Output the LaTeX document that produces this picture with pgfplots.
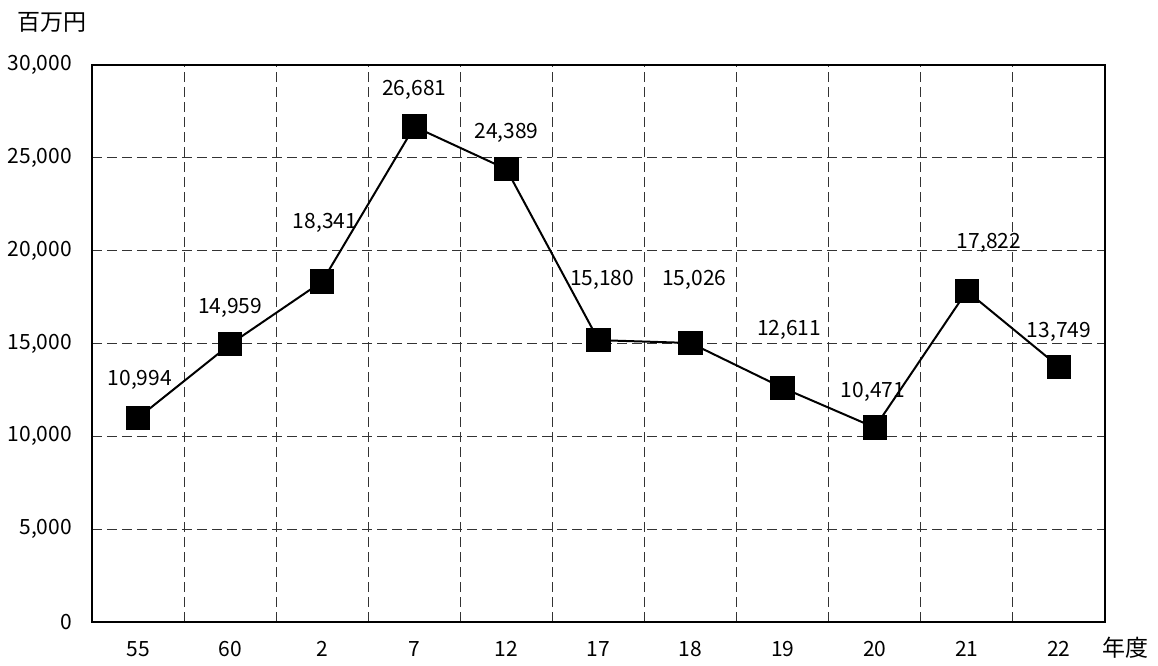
\documentclass[border=0pt]{standalone}
\usepackage{pgfplots}
\pgfplotsset{compat=1.18}
\usepackage{fontspec}
\setmainfont{Noto Sans CJK JP}
\begin{document}
\begin{tikzpicture}
\begin{axis}[
  at={(0,0)}, anchor=south west,
  scale only axis,
  width=506.5pt, height=278.5pt,
  xmin=-0.5, xmax=10.5,
  ymin=0, ymax=30000,
  xtick={0,...,10},
  xticklabels={55,60,2,7,12,17,18,19,20,21,22},
  minor xtick={0.5,1.5,...,9.5},
  ytick={0,5000,...,30000},
  scaled y ticks=false,
  /pgf/number format/.cd, 1000 sep={,}, assume math mode=true,
  /pgfplots/.cd,
  major tick length=0pt, minor tick length=0pt,
  xmajorgrids=false, xminorgrids=true, ymajorgrids=true,
  grid style={black!80, line width=0.5pt, dash pattern=on 5pt off 2.5pt},
  minor grid style={black!80, line width=0.5pt, dash pattern=on 5pt off 2.5pt},
  axis line style={black, line width=0.6pt},
  tick label style={font=\fontsize{10.5}{12}\selectfont},
  yticklabel style={xshift=-6.5pt},
  xticklabel style={yshift=-6pt},
  clip=false,
]
\addplot[black, line width=1pt, mark=square*, mark size=5.6pt, mark options={solid, fill=black}]
  coordinates {(0,10994) (1,14959) (2,18341) (3,26681) (4,24389) (5,15180) (6,15026) (7,12611) (8,10471) (9,17822) (10,13749)};
\addplot[draw=none, mark=none, nodes near coords, point meta=explicit symbolic,
  every node near coord/.append style={anchor=center, font=\fontsize{10.5}{12}\selectfont}]
  table[meta=lab] {
x y lab
0.02 13034 10,994
1.0 16912 14,959
2.03 21490 18,341
3.0 28654 26,681
4.0 26338 24,389
5.04 18420 15,180
6.04 18420 15,026
7.07 15727 12,611
7.98 12388 10,471
9.24 20413 17,822
10.0 15619 13,749
};
\node[font=\fontsize{11.5}{13}\selectfont] at ([xshift=-20pt,yshift=21.5pt]rel axis cs:0,1) {百万円};
\node[font=\fontsize{11.5}{13}\selectfont] at ([xshift=10pt,yshift=-13pt]rel axis cs:1,0) {年度};
\end{axis}
\useasboundingbox (-46pt,-21pt) rectangle (533pt,311pt);
\end{tikzpicture}
\end{document}
